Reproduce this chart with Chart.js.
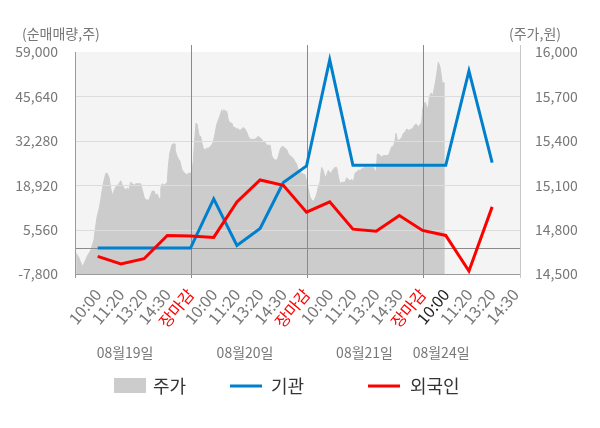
<!DOCTYPE html>
<html><head><meta charset="utf-8">
<script src="https://cdn.jsdelivr.net/npm/chart.js@4/dist/chart.umd.min.js"></script>
<style>html,body{margin:0;padding:0;background:#fff;}#wrap{width:600px;height:428px;position:relative;}</style>
</head><body><div id="wrap"><canvas id="c" width="600" height="428"></canvas></div>
<script>
const xLabels = ['10:00','11:20','13:20','14:30','장마감','10:00','11:20','13:20','14:30','장마감','10:00','11:20','13:20','14:30','장마감','10:00','11:20','13:20','14:30'];
const dateLabels = ['08월19일','08월20일','08월21일','08월24일'];
const datePos = [2.18, 7.35, 12.5, 15.8];
const dayBreaks = [5, 10, 15];
const instValues = [0,0,0,0,0,14800,800,5900,19700,24700,56700,24900,24900,24900,24900,24900,53300,25700];
const foreignValues = [-2500,-4800,-3200,3800,3600,3200,13900,20500,18900,10800,13900,5700,5100,9800,5300,3800,-6900,12400];
const priceTime = [0.07,0.19,0.34,0.41,0.55,0.70,0.84,0.91,0.98,1.06,1.13,1.20,1.27,1.35,1.41,1.49,1.56,1.63,1.70,1.78,1.85,1.92,1.99,2.06,2.13,2.21,2.28,2.35,2.42,2.49,2.57,2.64,2.71,2.85,2.92,3.00,3.07,3.21,3.28,3.35,3.43,3.50,3.57,3.64,3.69,3.72,3.78,3.86,3.93,4.00,4.04,4.10,4.15,4.19,4.25,4.29,
4.33,4.41,4.47,4.55,4.62,4.69,4.76,4.84,4.91,4.98,5.05,5.12,5.19,5.24,5.29,5.34,5.38,5.44,5.48,5.55,5.63,5.70,5.77,5.84,5.91,5.98,6.06,6.13,6.20,6.27,6.35,6.39,6.44,6.49,6.56,6.63,6.70,6.78,6.85,6.92,6.99,7.06,7.13,7.21,7.28,7.35,7.42,7.49,7.57,7.78,7.85,7.92,8.00,8.07,8.14,8.21,8.28,8.43,
8.50,8.57,8.64,8.72,8.78,8.86,8.93,9.00,9.07,9.15,9.22,9.29,9.36,9.43,9.50,9.58,9.65,9.79,9.94,10.05,10.15,10.22,10.29,10.37,10.44,10.51,10.58,10.65,10.72,10.80,10.87,10.94,11.01,11.09,11.16,11.23,11.30,11.37,11.44,11.52,11.66,11.73,11.80,11.88,11.95,12.02,12.09,12.16,12.23,12.31,12.38,12.52,
12.59,12.88,12.95,13.00,13.05,13.09,13.17,13.24,13.31,13.53,13.60,13.67,13.74,13.81,13.86,13.91,13.96,14.03,14.10,14.17,14.25,14.32,14.39,14.53,14.60,14.68,14.75,14.82,14.89,14.96,15.01,15.06,15.11,15.18,15.25,15.29,15.35,15.40,15.44,15.50,15.55,15.61,15.68,15.75,15.80,15.84,15.90,15.96];
const priceValues = [14640,14610,14550,14570,14620,14660,14730,14820,14890,14940,15000,15070,15130,15180,15180,15150,15080,15030,15060,15090,15100,15110,15130,15100,15080,15070,15080,15070,15120,15110,15100,15110,15110,15110,15070,15020,15000,15000,15030,15060,15060,15030,15040,15010,15010,15080,15110,15100,15110,15120,15220,15310,15340,15370,15380,15380,
15340,15300,15280,15260,15210,15190,15180,15170,15180,15180,15190,15260,15430,15520,15510,15460,15430,15430,15390,15350,15340,15350,15350,15360,15370,15390,15450,15510,15540,15570,15610,15580,15610,15600,15600,15540,15520,15520,15490,15490,15480,15480,15470,15480,15490,15480,15460,15430,15410,15410,15420,15430,15420,15410,15390,15390,15370,15370,
15300,15280,15270,15270,15290,15340,15360,15360,15350,15340,15310,15300,15290,15280,15260,15240,15200,15180,15170,15090,15020,15000,14990,15010,15040,15090,15120,15220,15200,15150,15170,15200,15180,15190,15210,15220,15220,15160,15110,15120,15120,15150,15140,15130,15140,15120,15180,15190,15200,15200,15210,15220,
15220,15220,15200,15180,15310,15310,15300,15290,15300,15300,15330,15360,15360,15400,15450,15410,15400,15410,15420,15450,15460,15480,15470,15480,15490,15510,15510,15490,15510,15520,15620,15640,15660,15630,15620,15690,15720,15720,15700,15750,15790,15850,15930,15900,15850,15800,15790,15790];
const leftTicks = [-7800, 5560, 18920, 32280, 45640, 59000];
const rightTicks = [14500, 14800, 15100, 15400, 15700, 16000];
const legendItems = ['주가','기관','외국인'];

const FONT = '"Noto Sans CJK KR", "Noto Sans", sans-serif';
Chart.defaults.font.family = FONT;

const deco = {
  id: 'deco',
  beforeDraw(chart) {
    const {ctx, chartArea: a} = chart;
    ctx.save();
    ctx.fillStyle = '#f4f4f4';
    ctx.fillRect(a.left, a.top, a.right - a.left, a.bottom - a.top);
    ctx.restore();
  },
  afterDatasetDraw(chart, args) {
    if (args.index !== 2) return;
    const {ctx, chartArea: a, scales} = chart;
    const y = scales.y, x = scales.x;
    ctx.save();
    ctx.lineWidth = 1;
    ctx.strokeStyle = '#dcdcdc';
    leftTicks.slice(1, -1).forEach(v => {
      const py = Math.round(y.getPixelForValue(v)) + 0.5;
      ctx.beginPath(); ctx.moveTo(a.left, py); ctx.lineTo(a.right, py); ctx.stroke();
    });
    ctx.strokeStyle = '#8a8a8a';
    const zy = Math.round(y.getPixelForValue(0)) + 0.5;
    ctx.beginPath(); ctx.moveTo(a.left, zy); ctx.lineTo(a.right, zy); ctx.stroke();
    dayBreaks.forEach(k => {
      const px = Math.round(x.getPixelForValue(k)) + 0.5;
      ctx.beginPath(); ctx.moveTo(px, a.top - 7); ctx.lineTo(px, a.bottom + 4); ctx.stroke();
    });
    ctx.strokeStyle = '#9a9a9a';
    const lx = Math.round(a.left) - 0.5, rx = Math.round(a.right) + 0.5, by = Math.round(a.bottom) + 0.5;
    ctx.beginPath(); ctx.moveTo(lx, a.top); ctx.lineTo(lx, a.bottom + 4); ctx.stroke();
    ctx.beginPath(); ctx.moveTo(a.left, by); ctx.lineTo(a.right, by); ctx.stroke();
    ctx.strokeStyle = '#c8c8c8';
    ctx.beginPath(); ctx.moveTo(rx, a.top - 7); ctx.lineTo(rx, a.bottom + 4); ctx.stroke();
    ctx.restore();
  },
  afterDraw(chart) {
    const {ctx, scales} = chart;
    const x = scales.x;
    ctx.save();
    ctx.textBaseline = 'middle';
    ctx.fillStyle = '#777';
    ctx.font = '14px ' + FONT;
    ctx.textAlign = 'left';
    ctx.fillText('(순매매량,주)', 22, 34);
    ctx.fillText('(주가,원)', 509, 34);
    ctx.textAlign = 'center';
    dateLabels.forEach((t, i) => ctx.fillText(t, x.getPixelForValue(datePos[i]), 353));
    ctx.font = '18px ' + FONT;
    ctx.textAlign = 'left';
    ctx.fillStyle = '#cccccc';
    ctx.fillRect(114, 378, 32, 15);
    ctx.fillStyle = '#0080cc';
    ctx.fillRect(230, 384.5, 32, 3);
    ctx.fillStyle = '#ff0000';
    ctx.fillRect(368, 384.5, 32, 3);
    ctx.fillStyle = '#333';
    ctx.fillText(legendItems[0], 153, 386);
    ctx.fillText(legendItems[1], 271, 386);
    ctx.fillText(legendItems[2], 410, 386);
    ctx.restore();
  }
};

new Chart(document.getElementById('c'), {
  type: 'line',
  data: {
    datasets: [
      { label: legendItems[2], data: foreignValues.map((v, i) => ({x: i + 1, y: v})), yAxisID: 'y',
        borderColor: '#ff0000', borderWidth: 3, pointRadius: 0, tension: 0, fill: false },
      { label: legendItems[1], data: instValues.map((v, i) => ({x: i + 1, y: v})), yAxisID: 'y',
        borderColor: '#0080cc', borderWidth: 3, pointRadius: 0, tension: 0, fill: false },
      { label: legendItems[0], data: priceTime.map((t, i) => ({x: t, y: priceValues[i]})), yAxisID: 'y2',
        borderColor: '#cccccc', borderWidth: 1, backgroundColor: '#cccccc', pointRadius: 0, tension: 0, fill: 'start' }
    ]
  },
  options: {
    responsive: false,
    animation: false,
    layout: { padding: { top: 52, left: 0, right: 0, bottom: 0 } },
    plugins: { legend: { display: false }, tooltip: { enabled: false } },
    scales: {
      x: {
        type: 'linear', min: 0.065, max: 19.2,
        grid: { display: false }, border: { display: false },
        afterBuildTicks: s => { s.ticks = xLabels.map((l, i) => ({ value: i + 1 })); },
        afterFit: s => { s.height = 154; },
        ticks: {
          autoSkip: false, minRotation: 50, maxRotation: 50, padding: 3,
          font: { size: 16 },
          color: c => (xLabels[c.index] === '장마감' ? '#ff0000' : (c.index === 15 ? '#222' : '#777')),
          callback: (v, i) => xLabels[i]
        }
      },
      y: {
        position: 'left', min: -7800, max: 59000,
        grid: { display: false }, border: { display: false },
        afterBuildTicks: s => { s.ticks = leftTicks.map(v => ({ value: v })); },
        afterFit: s => { s.width = 76; },
        ticks: { padding: 10, font: { size: 14 }, color: '#777', callback: v => v.toLocaleString('en-US') }
      },
      y2: {
        position: 'right', min: 14500, max: 16000,
        grid: { display: false }, border: { display: false },
        afterBuildTicks: s => { s.ticks = rightTicks.map(v => ({ value: v })); },
        afterFit: s => { s.width = 80; },
        ticks: { padding: 7, font: { size: 14 }, color: '#777', callback: v => v.toLocaleString('en-US') }
      }
    }
  },
  plugins: [deco]
});
</script>
</body></html>
